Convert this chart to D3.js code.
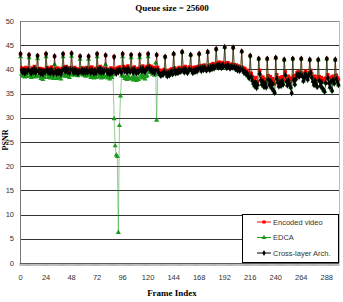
<!DOCTYPE html>
<html>
<head>
<meta charset="utf-8">
<script src="https://cdn.jsdelivr.net/npm/d3@7"></script>
<style>
  body { margin: 0; background: #fff; }
  .tick-label { font-family: "Liberation Sans Narrow", "Arial Narrow", "Liberation Sans", sans-serif; font-size: 7.5px; fill: #333; }
  .ttl { font-family: "Liberation Serif", "Times New Roman", serif; font-weight: bold; font-size: 9px; fill: #000; }
</style>
</head>
<body>
<div id="chart"></div>
<script>
// PSNR per frame (GOP of 8 frames, I-frame first)
const encodedVideo = [
  43.2, 40.3, 39.8, 40.1, 39.6, 40.4, 39.9, 40.2,
  43.0, 40.0, 39.5, 40.3, 39.9, 40.6, 39.7, 40.1,
  42.8, 39.8, 40.2, 39.6, 40.1, 39.4, 40.0, 39.8,
  43.2, 40.4, 39.9, 40.2, 39.7, 40.5, 40.0, 39.6,
  42.7, 40.1, 39.6, 40.3, 39.8, 40.0, 39.5, 40.2,
  43.2, 40.5, 40.0, 40.6, 39.9, 40.3, 39.8, 40.4,
  43.3, 40.2, 39.7, 40.4, 39.9, 40.1, 39.6, 40.0,
  42.7, 39.9, 40.3, 39.7, 40.2, 39.8, 40.4, 39.9,
  42.7, 40.3, 39.8, 40.5, 40.0, 39.7, 40.2, 39.8,
  43.2, 40.4, 40.0, 40.6, 39.8, 40.3, 39.9, 40.1,
  42.9, 40.2, 39.7, 40.0, 39.5, 40.3, 39.8, 40.1,
  42.6, 40.0, 39.6, 40.3, 39.9, 40.5, 40.1, 39.8,
  43.2, 40.6, 40.1, 40.4, 39.9, 40.7, 40.2, 40.0,
  43.0, 40.3, 39.8, 40.5, 40.0, 39.7, 40.2, 39.9,
  43.0, 40.5, 40.1, 40.7, 40.2, 39.9, 40.4, 40.6,
  43.2, 40.8, 40.3, 40.6, 40.0, 40.4, 39.8, 40.2,
  43.0, 40.4, 39.9, 39.6, 39.3, 39.8, 39.5, 40.0,
  42.6, 39.7, 39.2, 39.8, 39.4, 39.9, 40.1, 39.6,
  43.2, 40.3, 39.7, 40.1, 39.8, 40.4, 40.0, 40.2,
  43.6, 40.4, 39.9, 40.6, 40.1, 39.8, 40.3, 40.5,
  43.0, 40.2, 39.8, 40.4, 40.0, 40.5, 40.1, 40.6,
  43.2, 40.7, 40.2, 40.8, 40.4, 40.9, 40.5, 40.3,
  43.6, 40.8, 40.4, 41.0, 40.6, 41.2, 40.7, 41.0,
  44.2, 41.3, 40.9, 41.5, 41.0, 40.8, 41.4, 41.1,
  44.6, 41.2, 40.8, 41.4, 41.0, 40.7, 41.1, 40.9,
  44.5, 41.0, 40.6, 40.9, 40.3, 40.7, 40.2, 40.5,
  43.7, 40.4, 39.9, 40.2, 39.6, 39.8, 39.3, 38.9,
  42.8, 39.2, 38.5, 38.0, 37.6, 38.3, 37.2, 37.5,
  42.2, 39.8, 38.6, 37.9, 38.4, 37.5, 38.0, 37.3,
  42.2, 38.7, 37.8, 38.5, 37.4, 38.1, 37.6, 37.0,
  42.4, 38.9, 38.2, 37.6, 38.3, 37.7, 38.5, 37.9,
  42.0, 39.5, 38.4, 37.8, 38.6, 38.1, 37.5, 38.2,
  42.2, 38.6, 37.9, 38.8, 39.3, 39.5, 39.0, 39.4,
  42.2, 39.2, 38.4, 38.9, 39.6, 39.1, 38.7, 39.3,
  42.0, 39.8, 39.0, 38.4, 37.9, 38.6, 38.0, 37.6,
  42.0, 38.5, 37.8, 38.3, 37.4, 38.0, 37.7, 38.2,
  42.2, 38.9, 38.1, 37.5, 38.4, 37.9, 38.6, 38.0,
  42.0, 38.8, 38.3, 37.9
];

const edca = [
  42.6, 39.0, 38.6, 39.2, 38.4, 38.9, 38.5, 39.1,
  42.4, 38.7, 38.3, 38.9, 38.5, 39.2, 38.4, 38.8,
  42.2, 38.5, 38.9, 38.1, 38.6, 37.9, 38.4, 38.3,
  42.6, 38.9, 38.3, 38.8, 38.2, 39.0, 38.5, 38.1,
  41.0, 38.6, 38.1, 38.8, 38.3, 38.6, 38.0, 38.7,
  42.6, 39.0, 38.6, 39.2, 38.5, 38.9, 38.3, 38.9,
  42.7, 39.2, 38.8, 39.4, 38.9, 39.3, 38.7, 39.1,
  42.1, 39.0, 39.4, 38.8, 39.3, 38.6, 39.2, 38.7,
  42.1, 38.9, 38.3, 39.0, 38.5, 38.2, 38.6, 38.3,
  42.6, 38.8, 38.4, 39.0, 38.2, 38.7, 38.3, 38.6,
  41.0, 38.7, 38.2, 38.6, 38.0, 38.8, 38.3, 38.9,
  29.8, 24.2, 22.3, 22.0, 6.3, 28.4, 34.5, 38.7,
  42.6, 38.5, 38.1, 38.4, 37.9, 38.7, 38.2, 38.0,
  42.4, 38.3, 37.8, 38.5, 38.0, 37.7, 38.2, 37.9,
  42.4, 38.6, 38.2, 38.8, 38.3, 38.0, 38.5, 38.7,
  42.6, 39.4, 39.3, 39.6, 39.0, 39.4, 38.8, 41.3,
  29.5, 39.0, 39.3, 39.0, 38.7, 39.2, 38.9, 39.5,
  42.6, 39.1, 38.6, 39.3, 38.8, 39.4, 39.6, 39.0,
  43.2, 39.8, 39.2, 39.6, 39.3, 39.9, 39.5, 39.7,
  43.6, 39.9, 39.4, 40.1, 39.6, 39.3, 39.8, 40.0,
  43.0, 39.7, 39.3, 39.9, 39.5, 40.0, 39.6, 40.1,
  43.2, 40.2, 39.7, 40.3, 39.9, 40.4, 40.0, 39.8,
  43.6, 40.3, 39.9, 40.5, 40.1, 40.7, 40.2, 40.5,
  44.2, 40.8, 40.4, 41.0, 40.5, 40.3, 40.9, 40.6,
  44.6, 40.7, 40.3, 40.9, 40.5, 40.2, 40.6, 40.4,
  44.5, 40.5, 40.1, 40.4, 39.8, 40.2, 39.7, 40.0,
  43.7, 39.9, 39.4, 39.6, 39.0, 39.2, 38.6, 38.2,
  42.8, 38.5, 37.7, 37.1, 36.6, 37.4, 36.2, 36.8,
  42.2, 39.1, 37.8, 36.9, 37.5, 36.4, 37.1, 36.3,
  42.2, 37.9, 36.8, 37.6, 36.2, 37.0, 35.6, 35.2,
  42.4, 38.1, 37.3, 36.5, 37.4, 36.6, 37.6, 36.9,
  42.0, 38.8, 37.5, 36.7, 37.7, 37.0, 36.3, 35.1,
  42.2, 37.8, 36.9, 38.0, 38.8, 39.0, 38.5, 38.9,
  42.2, 38.6, 37.6, 38.2, 39.1, 38.5, 37.9, 38.7,
  42.0, 39.3, 38.3, 37.5, 36.8, 37.7, 36.9, 36.4,
  42.0, 37.7, 36.6, 37.3, 36.1, 35.7, 35.4, 37.2,
  42.2, 38.2, 37.2, 36.3, 37.5, 35.6, 37.8, 37.1,
  42.0, 38.0, 37.4, 36.8
];

const crossLayer = [
  43.2, 39.8, 39.4, 39.9, 39.2, 39.7, 39.5, 39.9,
  43.0, 39.6, 39.2, 39.8, 39.5, 40.1, 39.3, 39.7,
  42.8, 39.5, 39.8, 39.1, 39.7, 39.0, 39.6, 39.4,
  43.2, 39.9, 39.4, 39.8, 39.2, 40.0, 39.5, 39.1,
  42.7, 39.6, 39.1, 39.8, 39.3, 39.6, 39.0, 39.7,
  43.2, 40.0, 39.6, 40.2, 39.5, 39.9, 39.3, 39.9,
  43.3, 39.8, 39.3, 39.9, 39.4, 39.7, 39.1, 39.6,
  42.7, 39.5, 39.9, 39.3, 39.8, 39.3, 39.9, 39.4,
  42.7, 39.8, 39.3, 40.0, 39.6, 39.2, 39.7, 39.3,
  43.2, 39.9, 39.5, 40.1, 39.3, 39.8, 39.4, 39.7,
  42.9, 39.7, 39.2, 39.6, 39.0, 39.8, 39.3, 39.6,
  42.6, 39.5, 39.1, 39.8, 39.4, 40.0, 39.6, 39.3,
  43.2, 40.1, 39.6, 39.9, 39.4, 40.2, 39.7, 39.5,
  43.0, 39.8, 39.3, 40.0, 39.5, 39.2, 39.7, 39.4,
  43.0, 40.0, 39.6, 40.2, 39.7, 39.4, 39.9, 40.1,
  43.2, 40.3, 39.8, 40.1, 39.5, 39.9, 39.3, 39.7,
  43.0, 39.9, 39.3, 39.0, 38.7, 39.2, 38.9, 39.5,
  42.6, 39.1, 38.6, 39.3, 38.8, 39.4, 39.6, 39.0,
  43.2, 39.8, 39.2, 39.6, 39.3, 39.9, 39.5, 39.7,
  43.6, 39.9, 39.4, 40.1, 39.6, 39.3, 39.8, 40.0,
  43.0, 39.7, 39.3, 39.9, 39.5, 40.0, 39.6, 40.1,
  43.2, 40.2, 39.7, 40.3, 39.9, 40.4, 40.0, 39.8,
  43.6, 40.3, 39.9, 40.5, 40.1, 40.7, 40.2, 40.5,
  44.2, 40.8, 40.4, 41.0, 40.5, 40.3, 40.9, 40.6,
  44.6, 40.7, 40.3, 40.9, 40.5, 40.2, 40.6, 40.4,
  44.5, 40.5, 40.1, 40.4, 39.8, 40.2, 39.7, 40.0,
  43.7, 39.9, 39.4, 39.6, 39.0, 39.2, 38.6, 38.2,
  42.8, 38.5, 37.7, 37.1, 36.6, 37.4, 36.2, 36.8,
  42.2, 39.1, 37.8, 36.9, 37.5, 36.4, 37.1, 36.3,
  42.2, 37.9, 36.8, 37.6, 36.2, 37.0, 35.6, 35.2,
  42.4, 38.1, 37.3, 36.5, 37.4, 36.6, 37.6, 36.9,
  42.0, 38.8, 37.5, 36.7, 37.7, 37.0, 36.3, 35.1,
  42.2, 37.8, 36.9, 38.0, 38.8, 39.0, 38.5, 38.9,
  42.2, 38.6, 37.6, 38.2, 39.1, 38.5, 37.9, 38.7,
  42.0, 39.3, 38.3, 37.5, 36.8, 37.7, 36.9, 36.4,
  42.0, 37.7, 36.6, 37.3, 36.1, 35.7, 35.4, 37.2,
  42.2, 38.2, 37.2, 36.3, 37.5, 35.6, 37.8, 37.1,
  42.0, 38.0, 37.4, 36.8
];

const seriesNames = ['Encoded video', 'EDCA', 'Cross-layer Arch.'];
const seriesColors = ['#ff0000', '#1a9a1a', '#000000'];
const xTicks = [0, 24, 48, 72, 96, 120, 144, 168, 192, 216, 240, 264, 288];
const yTicks = [0, 5, 10, 15, 20, 25, 30, 35, 40, 45, 50];

const width = 343;
const height = 302;
const plot = {left: 20, right: 339, top: 21, bottom: 263};

const svg = d3.select('#chart')
    .append('svg')
    .attr('width', width)
    .attr('height', height);

const nFrames = encodedVideo.length;
const x = d3.scaleLinear().domain([-0.5, nFrames - 0.5]).range([plot.left, plot.right]);
const y = d3.scaleLinear().domain([0, 50]).range([plot.bottom, plot.top]);

// Gridlines
svg.append('g')
    .selectAll('line')
    .data(yTicks.filter(d => d > 0))
    .join('line')
    .attr('x1', plot.left).attr('x2', plot.right)
    .attr('y1', d => Math.round(y(d)) + 0.5).attr('y2', d => Math.round(y(d)) + 0.5)
    .attr('stroke', d => d === 50 ? '#888' : '#333')
    .attr('stroke-width', 1.1);

// Right border of plot area
svg.append('line')
    .attr('x1', plot.right + 0.5).attr('x2', plot.right + 0.5)
    .attr('y1', plot.top).attr('y2', plot.bottom)
    .attr('stroke', '#bbb');

// Y axis
svg.append('line')
    .attr('x1', plot.left + 0.5).attr('x2', plot.left + 0.5)
    .attr('y1', plot.top).attr('y2', plot.bottom)
    .attr('stroke', '#777');

svg.append('g')
    .selectAll('text')
    .data(yTicks)
    .join('text')
    .attr('class', 'tick-label')
    .attr('x', 14)
    .attr('y', d => y(d) + 2.5)
    .attr('text-anchor', 'end')
    .text(d => d);

// X axis with a tick between every frame
svg.append('line')
    .attr('x1', plot.left).attr('x2', plot.right)
    .attr('y1', plot.bottom + 0.5).attr('y2', plot.bottom + 0.5)
    .attr('stroke', '#555');

svg.append('g')
    .selectAll('line')
    .data(d3.range(nFrames + 1))
    .join('line')
    .attr('x1', d => x(d - 0.5)).attr('x2', d => x(d - 0.5))
    .attr('y1', plot.bottom).attr('y2', plot.bottom + 3)
    .attr('stroke', '#666')
    .attr('stroke-width', 0.5);

svg.append('g')
    .selectAll('text')
    .data(xTicks)
    .join('text')
    .attr('class', 'tick-label')
    .attr('x', d => x(d))
    .attr('y', 280)
    .attr('text-anchor', 'middle')
    .text(d => d);

// Series
const allSeries = [encodedVideo, edca, crossLayer];
const line = d3.line().x((d, i) => x(i)).y(d => y(d));

const symbols = [d3.symbolSquare, d3.symbolTriangle, d3.symbolDiamond];
const symbolSizes = [12, 11, 13];

allSeries.forEach((values, s) => {
    const g = svg.append('g');
    g.append('path')
        .datum(values)
        .attr('d', line)
        .attr('fill', 'none')
        .attr('stroke', seriesColors[s])
        .attr('stroke-width', s === 1 ? 0.6 : 0.7)
        .attr('stroke-opacity', s === 1 ? 0.8 : 0.6);
    g.selectAll('path.mark')
        .data(values)
        .join('path')
        .attr('class', 'mark')
        .attr('d', d3.symbol(symbols[s], symbolSizes[s]))
        .attr('transform', (d, i) => `translate(${x(i)},${y(d)})`)
        .attr('fill', seriesColors[s]);
});

// Legend
const legend = svg.append('g');
legend.append('rect')
    .attr('x', 242.5).attr('y', 214.5)
    .attr('width', 96).attr('height', 48)
    .attr('fill', '#fff')
    .attr('stroke', '#000')
    .attr('stroke-width', 1);

seriesNames.forEach((name, s) => {
    const ly = 222 + s * 15.5;
    legend.append('line')
        .attr('x1', 257).attr('x2', 271)
        .attr('y1', ly).attr('y2', ly)
        .attr('stroke', seriesColors[s])
        .attr('stroke-width', 1);
    legend.append('path')
        .attr('d', d3.symbol(symbols[s], 10))
        .attr('transform', `translate(264,${ly})`)
        .attr('fill', seriesColors[s]);
    legend.append('text')
        .attr('class', 'tick-label')
        .attr('x', 273)
        .attr('y', ly + 2.8)
        .text(name);
});

// Titles
svg.append('text')
    .attr('class', 'ttl')
    .attr('x', 172).attr('y', 11)
    .attr('text-anchor', 'middle')
    .text('Queue size = 25600');

svg.append('text')
    .attr('class', 'ttl')
    .attr('x', 172).attr('y', 296)
    .attr('text-anchor', 'middle')
    .text('Frame Index');

svg.append('text')
    .attr('class', 'ttl')
    .attr('transform', 'translate(7.5,140) rotate(-90)')
    .attr('text-anchor', 'middle')
    .style('font-size', '8px')
    .text('PSNR');
</script>
</body>
</html>
